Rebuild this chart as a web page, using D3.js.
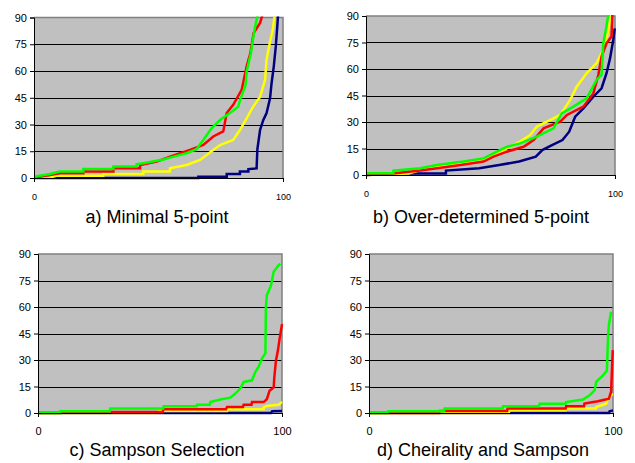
<html>
<meta charset='utf-8'>
<head>
    <script src="https://d3js.org/d3.v7.min.js"></script>
    <style>
      body { margin: 0; background: #fff; }
      text { font-family: Arial, "Liberation Sans", sans-serif; }
    </style>
</head>
<body>
<div id='viz'></div>
<script>
    // y ticks shared by all four panels
    let yTicks = [0, 15, 30, 45, 60, 75, 90];
    let xTicks = [0, 100];
    let captions = ['a) Minimal 5-point', 'b)  Over-determined 5-point', 'c) Sampson Selection', 'd) Cheirality and Sampson'];
    let seriesColors = ['#000080', '#ffff00', '#ff0000', '#00ff00'];

    // a) minimal 5-point  [percent, error]
    let aBlue = [[0,0],[66,0],[66,0.7],[77.4,0.7],[77.4,2.2],[82.7,2.2],[82.7,3.6],[86.1,3.6],[86.1,5],[89.4,5.4],[89.7,16],[90.8,27],[92.1,32.6],[93.4,36.4],[94.8,44.7],[95.4,53],[96.3,62.6],[97.1,73.8],[97.7,85],[98.1,93]];
    let aYellow = [[0,0],[6.4,0.3],[9,1.3],[27.8,1.3],[27.8,2.2],[43.9,2.2],[43.9,3.6],[54.6,3.6],[54.6,5.4],[61.3,7.3],[66.7,10.1],[69.3,12.9],[72,15.7],[74.7,18.5],[80,21.3],[82.7,26.9],[85.4,33.5],[88,40],[90.8,45.6],[92.8,55],[93.4,66.3],[94.8,76.6],[95.9,83.1],[96.8,93]];
    let aRed = [[0,0],[2.3,0.7],[6.4,1.7],[10.4,2.6],[19.8,2.6],[19.8,3.6],[31.9,3.6],[31.9,5.4],[42.6,5.4],[42.6,7.3],[49.3,9.2],[54.6,12],[62.6,15.7],[68,18.5],[72,23.3],[76,26.1],[77.4,36.4],[80,41],[83.4,49.4],[85.4,62.6],[86.9,70],[88.2,81.3],[90.8,87],[92.1,93]];
    let aGreen = [[0,0.7],[6.4,2.2],[10.4,3.6],[19.8,3.6],[19.8,5],[31.9,5],[31.9,6.5],[41.2,6.5],[41.2,7.7],[46.6,9],[52,10.4],[56,12],[61.3,13.9],[65.3,16.2],[68,21.3],[71.3,27.9],[74.7,32.6],[78.7,36.4],[82,40],[83,44.7],[85,52.2],[85.4,59.7],[87.1,70],[88,78.4],[88.8,84.9],[90.1,93]];

    // b) over-determined 5-point
    let bBlue = [[0,0],[17.4,0.9],[32.1,0.9],[32.1,2.5],[45.5,3.8],[53.5,5.7],[61.5,7.6],[68.2,10.4],[70.8,14.1],[74.9,17],[78.9,19.8],[81.6,24.5],[84,33],[87.3,37.7],[91.3,44.3],[94.6,49.1],[96.6,57.6],[98,66],[99.3,76.4],[99.9,83]];
    let bYellow = [[0,0],[17.1,0.9],[21.8,2.8],[28.5,4.7],[39.2,6.6],[48.6,9.4],[56.6,15.1],[61.9,18.9],[65.9,22.6],[68.6,27.4],[73.9,31.1],[78,34],[82,42.5],[84.6,50],[88.6,57.6],[92.6,63.3],[95.3,70.8],[96.9,79.2],[98.3,89.7],[98.6,93]];
    let bRed = [[0,0],[11,0.9],[21.8,2.5],[28.5,3.8],[37.9,5.7],[47.2,7.6],[51.2,10.4],[56.6,13.2],[63.3,16],[67.3,19.8],[71.3,26.4],[78,30.2],[80.7,34],[87.3,38.7],[91.3,46.2],[93.3,56.6],[94.6,67],[96.6,74.6],[98.6,78.4],[99,93]];
    let bGreen = [[0,1],[11,1],[11,2.5],[21.8,3.8],[28.5,5.7],[39.2,7.6],[47.2,9.4],[52.6,13.2],[56.6,16],[61.9,17.9],[68.6,21.7],[75.3,26.4],[78.6,34.9],[83.3,38.7],[88.6,43.4],[92.6,53.8],[94.6,56.6],[95.3,74.6],[96.3,82],[97.6,93]];

    // c) sampson selection
    let cBlue = [[0,0],[95.5,0],[96,1],[100,1.1]];
    let cYellow = [[0,0],[49,0],[49.4,1.2],[77.5,1.2],[77.5,2.1],[92.5,2.1],[92.5,3.2],[93.8,4],[98.6,4.7],[100,6.3]];
    let cRed = [[0,0],[9.5,0],[10,0.5],[51,0.5],[51.5,2.1],[77,2.1],[77.5,3.4],[84,3.4],[84.3,4.7],[87.5,4.7],[87.7,6.2],[92.5,6.2],[93.8,7.9],[94.9,12.6],[96.6,14.5],[96.8,19.3],[97.5,29.5],[98.3,35.2],[99,41.8],[100,50.3]];
    let cGreen = [[0,0],[9,0],[9.1,1],[29.4,1],[29.6,2.5],[51.3,2.5],[51.5,3.8],[65,3.8],[65.2,4.7],[70.4,4.7],[70.6,6.2],[74.7,7.6],[78.8,8.7],[80.9,11],[82.9,13.8],[84.3,17.6],[87.7,18.5],[89.1,23.3],[90.4,26.1],[91.8,30.9],[93.2,33.7],[93.4,60.1],[93.8,66.7],[95.5,72.3],[96.6,79.9],[98.6,83.6],[99.3,84.6]];

    // d) cheirality and sampson
    let dBlue = [[0,0],[98.4,0],[98.6,1],[100,1.5]];
    let dYellow = [[0,0],[57.3,0],[57.5,1.5],[80.6,1.5],[80.8,2.5],[93,2.5],[93.1,3.4],[97.2,5.3],[97.9,8.1],[99.9,11]];
    let dRed = [[0,0],[28.8,0],[29,1.1],[56.6,1.1],[56.8,2.5],[80.6,2.5],[80.8,3.8],[88.1,3.8],[88.3,5.3],[93.8,6.6],[98.3,8.1],[99.2,11.9],[99.6,25.2],[99.9,35.6]];
    let dGreen = [[0,0],[7.6,0],[7.8,1],[30.8,1],[31,2.5],[54.7,2.5],[54.9,3.8],[69.7,3.8],[69.9,5.3],[80.6,5.3],[80.8,6.2],[87.7,7.6],[90.4,10],[92.5,12.9],[93.1,17.6],[94.5,19.5],[95.9,21.3],[97.5,24.1],[98,44],[98.3,49.7],[99.2,57.3]];

    let panelData = [
      [aBlue, aYellow, aRed, aGreen],
      [bBlue, bYellow, bRed, bGreen],
      [cBlue, cYellow, cRed, cGreen],
      [dBlue, dYellow, dRed, dGreen]
    ];

    // plot boxes in page pixels
    let boxes = [
      {l: 34, r: 283, t: 17.5, b: 178, lab: 197, small: true},
      {l: 366, r: 615, t: 16, b: 175, lab: 194, small: true},
      {l: 38, r: 282, t: 254, b: 413, lab: 431, small: false},
      {l: 369, r: 613, t: 254, b: 413, lab: 431, small: false}
    ];
    let captionY = [223, 223, 456, 456];
    let captionX = [157, 481, 157, 483];

    let svg = d3.select('#viz').append('svg')
                .attr('width', 635)
                .attr('height', 463);

    boxes.forEach((bx, i) => {
      let x = d3.scaleLinear().domain([0, 100]).range([bx.l, bx.r]);
      let y = d3.scaleLinear().domain([0, 90]).range([bx.b, bx.t]);
      let g = svg.append('g');

      g.append('rect')
        .attr('x', bx.l).attr('y', bx.t)
        .attr('width', bx.r - bx.l).attr('height', bx.b - bx.t)
        .attr('fill', '#c0c0c0');

      // gridlines
      g.selectAll('.grid').data(yTicks.filter(t => t > 0 && t < 90)).enter()
        .append('line')
        .attr('x1', bx.l).attr('x2', bx.r)
        .attr('y1', d => Math.round(y(d)) + 0.5).attr('y2', d => Math.round(y(d)) + 0.5)
        .attr('stroke', '#000').attr('stroke-width', 1);

      // top/right border
      g.append('path')
        .attr('d', `M${bx.l},${bx.t}H${bx.r}V${bx.b}`)
        .attr('fill', 'none').attr('stroke', '#808080').attr('stroke-width', 1.5);

      // clip
      let cid = 'clip' + i;
      svg.append('clipPath').attr('id', cid)
        .append('rect')
        .attr('x', bx.l).attr('y', bx.t - 1)
        .attr('width', bx.r - bx.l + 2).attr('height', bx.b - bx.t + 3);

      let line = d3.line()
        .x(d => x(d[0]))
        .y(d => y(d[1]));

      let lines = g.append('g').attr('clip-path', `url(#${cid})`);
      panelData[i].forEach((s, k) => {
        lines.append('path')
          .datum(s)
          .attr('d', line)
          .attr('fill', 'none')
          .attr('stroke', seriesColors[k])
          .attr('stroke-width', 2.5);
      });

      // axes
      let yAxis = d3.axisLeft(y).tickValues(yTicks).tickSize(4).tickPadding(3);
      let ya = g.append('g').attr('transform', `translate(${bx.l},0)`).call(yAxis);
      ya.select('.domain').attr('stroke', '#000');
      ya.selectAll('text').attr('font-size', 11).attr('fill', '#000')
        .attr('font-family', 'Arial, "Liberation Sans", sans-serif');

      let xAxis = d3.axisBottom(x).tickValues(xTicks).tickSize(4).tickFormat(d3.format('d'));
      let xa = g.append('g').attr('transform', `translate(0,${bx.b})`).call(xAxis);
      xa.select('.domain').attr('stroke', '#000');
      xa.selectAll('text').remove();
      xa.selectAll('.tick').append('text')
        .attr('y', bx.lab - bx.b)
        .attr('dy', '0.35em')
        .attr('text-anchor', 'middle')
        .attr('font-size', bx.small ? 9 : 11)
        .attr('fill', '#000')
        .text(d => d);

      svg.append('text')
        .attr('x', captionX[i]).attr('y', captionY[i])
        .attr('text-anchor', 'middle')
        .attr('font-size', 18)
        .attr('fill', '#000')
        .text(captions[i]);
    });
</script>
</body>
</html>
